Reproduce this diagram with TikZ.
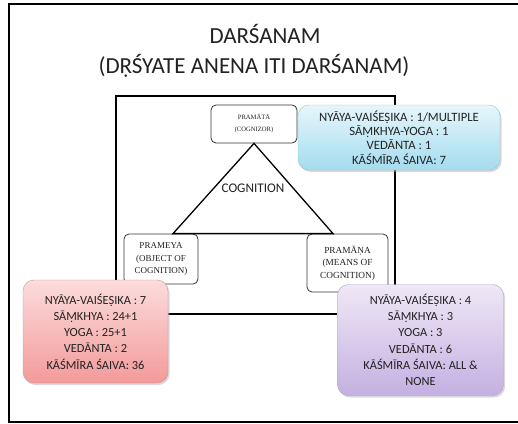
\documentclass[tikz,border=0pt]{standalone}
\usepackage{fontspec}
\setmainfont{Carlito}
\newfontfamily\timesfont{Liberation Serif}
\usetikzlibrary{shadows}
\definecolor{inkgray}{HTML}{222222}
\definecolor{bluetop}{HTML}{E6F6FB}
\definecolor{bluebot}{HTML}{A4DCEF}
\definecolor{redtop}{HTML}{FCDCDC}
\definecolor{redbot}{HTML}{F39A9A}
\definecolor{violettop}{HTML}{EFE8F6}
\definecolor{violetbot}{HTML}{C4B0E2}
\tikzset{%
    frame/.style={draw, line width=1.8pt},
    concept/.style={rectangle, draw=black!80, line width=0.8pt, rounded corners=5pt, fill=white,
        align=center, inner sep=0pt, text=inkgray},
    school/.style={rectangle, rounded corners=11pt, align=center, inner sep=0pt,
        text=inkgray, drop shadow={shadow xshift=1.5pt, shadow yshift=-2pt, fill=black!30}},
    title/.style={text=inkgray, font=\fontsize{23}{27}\selectfont}
}

\begin{document}
\begin{tikzpicture}[x=1pt, y=-1pt]
    \useasboundingbox (0,0) rectangle (518,423);
    % outer frame, right side runs off the page
    \draw[frame] (520,4) -- (9,4) -- (9,422) -- (520,422);
    \node[title] (name) at (265,34) {DARŚANAM};
    \node[title] (meaning) at (254,66) {(DṚŚYATE ANENA ITI DARŚANAM)};
    \draw[frame] (116,96) rectangle (395,314);

    \node[concept, minimum width=86pt, minimum height=38pt,
        font=\timesfont\fontsize{6.6}{12}\selectfont] (cognizor) at (254,124) {PRAMĀTĀ\\(COGNIZOR)};
    \node[concept, minimum width=74pt, minimum height=50pt,
        font=\timesfont\fontsize{9}{12.8}\selectfont] (object) at (161,259) {PRAMEYA\\(OBJECT OF\\COGNITION)};
    \node[concept, minimum width=81pt, minimum height=58pt,
        font=\timesfont\fontsize{9.3}{12.4}\selectfont] (means) at (347.5,263) {PRAMĀṆA\\(MEANS OF\\COGNITION)};

    \coordinate (objtip) at ([xshift=12pt]object.north);
    \coordinate (meanstip) at ([xshift=-14.5pt]means.north);
    \draw[line width=1.3pt] (cognizor.south) -- (objtip) -- (meanstip) -- cycle;
    \node[text=inkgray, font=\fontsize{13.2}{15}\selectfont] (cognition) at (253,188) {COGNITION};

    \node[school, top color=bluetop, bottom color=bluebot, draw=bluebot!70!gray,
        minimum width=202pt, minimum height=65pt, font=\fontsize{12.7}{14.4}\selectfont]
        (count) at (399,137.5)
        {NYĀYA-VAIŚEṢIKA : 1/MULTIPLE\\SĀṂKHYA-YOGA : 1\\VEDĀNTA : 1\\KĀŚMĪRA ŚAIVA: 7};
    \node[school, top color=redtop, bottom color=redbot, draw=redbot!70!gray,
        minimum width=145pt, minimum height=103pt, font=\fontsize{12.4}{16.3}\selectfont]
        (objects) at (95.5,331.5)
        {NYĀYA-VAIŚEṢIKA : 7\\SĀṂKHYA : 24+1\\YOGA : 25+1\\VEDĀNTA : 2\\KĀŚMĪRA ŚAIVA: 36};
    \node[school, top color=violettop, bottom color=violetbot, draw=violetbot!70!gray,
        minimum width=166pt, minimum height=111pt, font=\fontsize{12.4}{16.3}\selectfont]
        (instruments) at (420.5,340)
        {NYĀYA-VAIŚEṢIKA : 4\\SĀṂKHYA : 3\\YOGA : 3\\VEDĀNTA : 6\\KĀŚMĪRA ŚAIVA: ALL \&\\NONE};
\end{tikzpicture}
\end{document}
